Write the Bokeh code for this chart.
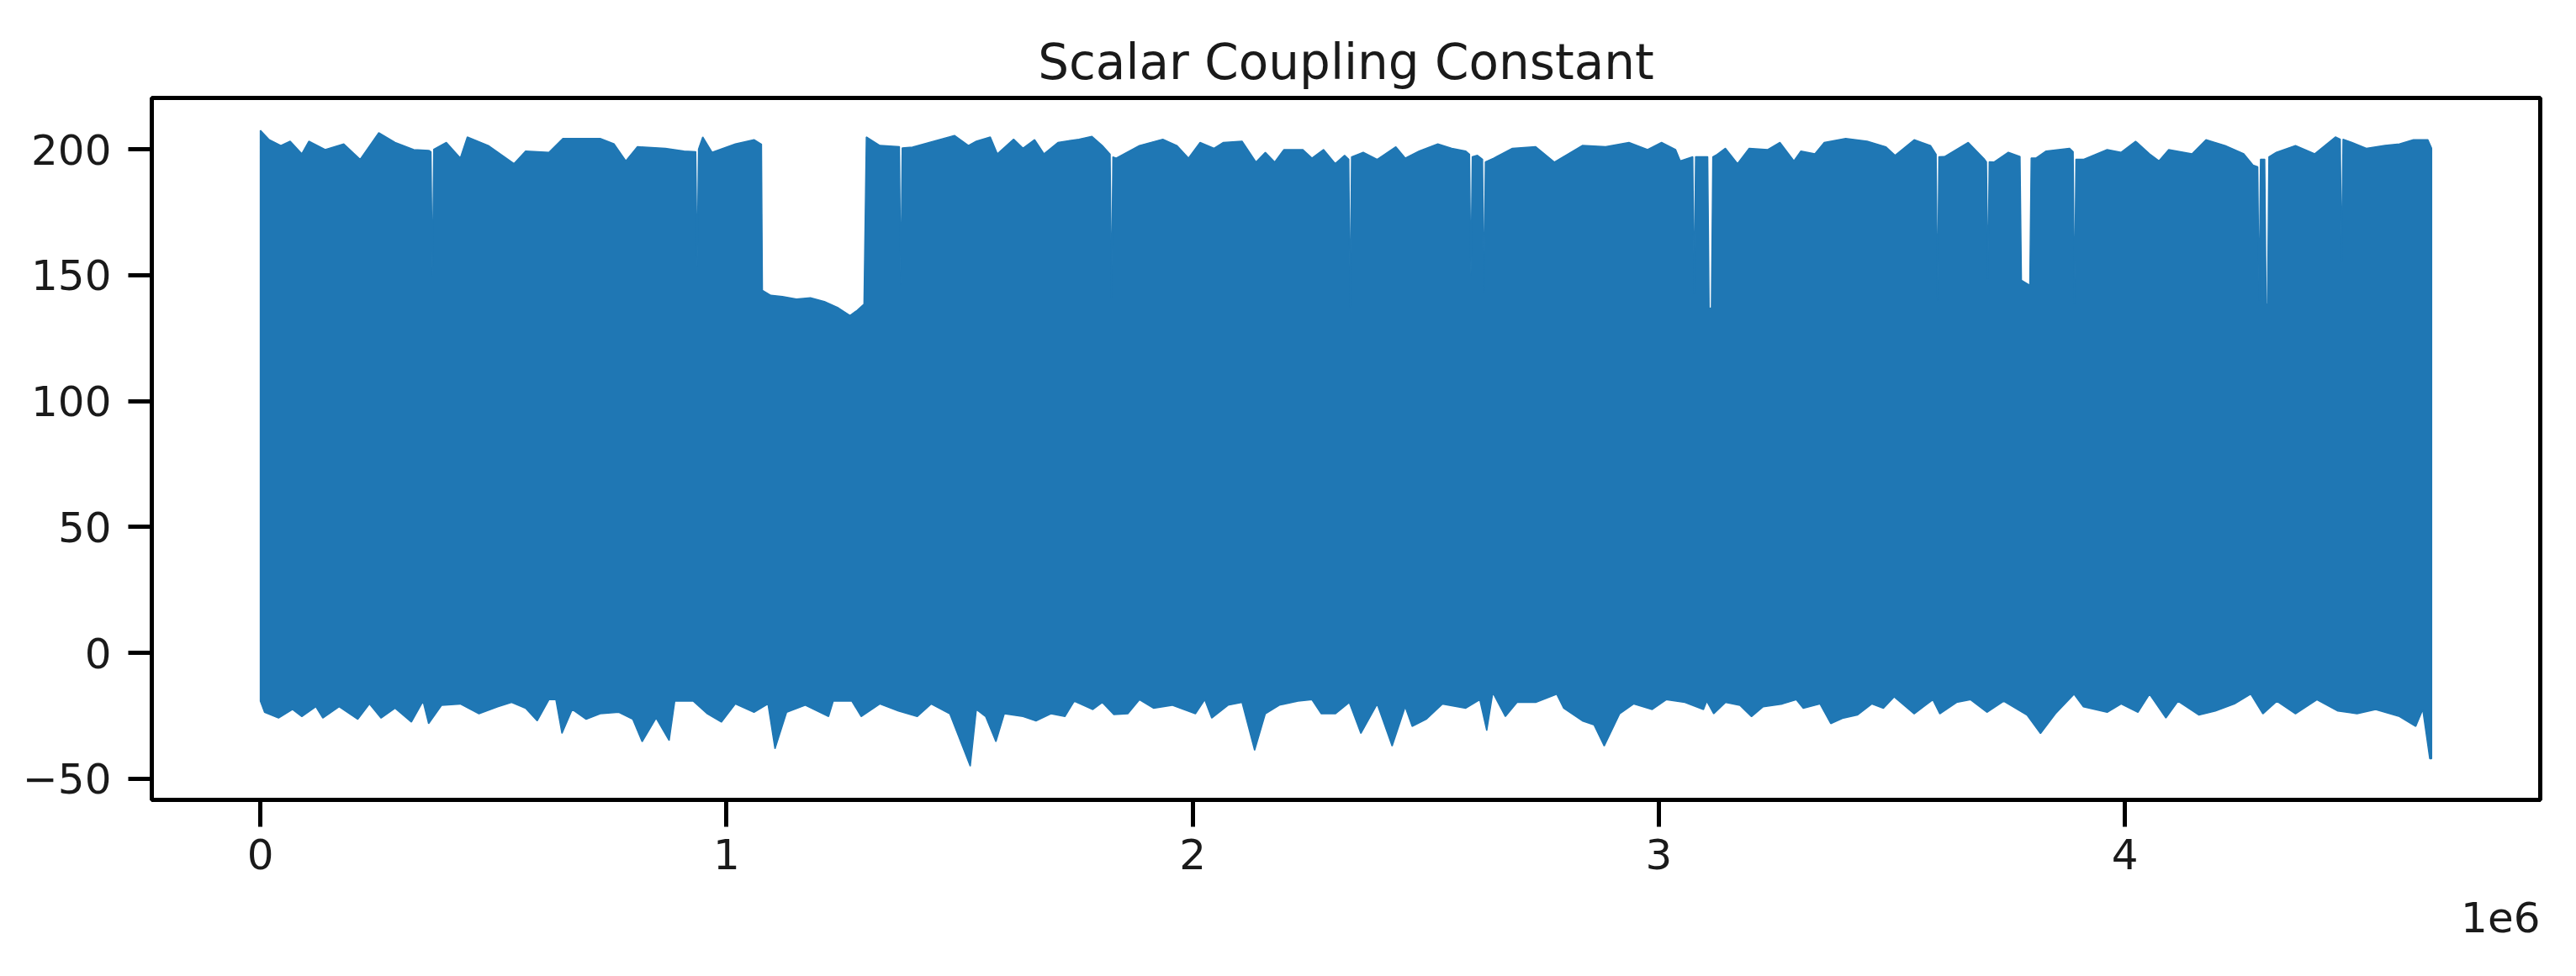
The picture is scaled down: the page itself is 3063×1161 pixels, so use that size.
from bokeh.plotting import figure
from bokeh.models import Range1d, FixedTicker, Title
from bokeh.embed import file_html
from bokeh.resources import INLINE

# ---- data (x in millions of rows, y = scalar coupling constant) ----
# upper envelope of the dense line (max of the series per pixel column)
upper_x = [0.000, 0.019, 0.044, 0.064, 0.089, 0.104, 0.139, 0.179, 0.214, 0.254, 0.289, 0.329,
           0.362, 0.366, 0.369, 0.372, 0.399, 0.429, 0.444, 0.489, 0.544, 0.569, 0.619, 0.649,
           0.689, 0.729, 0.759, 0.784, 0.809, 0.869, 0.909, 0.934, 0.937, 0.940, 0.949, 0.969,
           1.019, 1.059, 1.075, 1.077, 1.095, 1.120, 1.150, 1.180, 1.210, 1.240, 1.265, 1.280,
           1.295, 1.300, 1.329, 1.371, 1.374, 1.377, 1.399, 1.489, 1.519, 1.536, 1.566, 1.581,
           1.616, 1.636, 1.661, 1.681, 1.711, 1.756, 1.784, 1.806, 1.823, 1.826, 1.829, 1.836,
           1.886, 1.936, 1.966, 1.991, 2.016, 2.046, 2.066, 2.106, 2.136, 2.156, 2.176, 2.196,
           2.236, 2.256, 2.281, 2.306, 2.326, 2.335, 2.338, 2.341, 2.366, 2.396, 2.436, 2.456,
           2.486, 2.526, 2.556, 2.586, 2.594, 2.597, 2.600, 2.611, 2.622, 2.625, 2.628, 2.646,
           2.686, 2.736, 2.776, 2.836, 2.886, 2.936, 2.976, 3.006, 3.036, 3.046, 3.073, 3.076,
           3.079, 3.091, 3.105, 3.108, 3.113, 3.116, 3.123, 3.143, 3.169, 3.194, 3.234, 3.260,
           3.290, 3.305, 3.335, 3.355, 3.401, 3.447, 3.487, 3.507, 3.548, 3.583, 3.595, 3.598,
           3.601, 3.613, 3.664, 3.699, 3.703, 3.706, 3.709, 3.719, 3.750, 3.775, 3.778, 3.796,
           3.799, 3.809, 3.831, 3.881, 3.889, 3.892, 3.895, 3.911, 3.962, 3.992, 4.023, 4.053,
           4.073, 4.094, 4.144, 4.174, 4.215, 4.255, 4.275, 4.285, 4.288, 4.291, 4.300, 4.303,
           4.306, 4.309, 4.325, 4.366, 4.407, 4.452, 4.462, 4.465, 4.468, 4.487, 4.518, 4.558,
           4.589, 4.619, 4.650, 4.658]
upper_y = [207.5, 203.8, 201.5, 203.2, 198.2, 203.2, 199.9, 202.1, 196.0, 206.6, 202.7, 199.9,
           199.5, 199.0, 149.2, 200.0, 202.7, 196.5, 204.9, 201.5, 194.3, 199.3, 198.8, 204.3,
           204.3, 204.3, 202.1, 195.4, 201.0, 200.4, 199.3, 199.0, 153.1, 200.0, 204.9, 198.8,
           202.1, 203.8, 202.0, 144.0, 142.0, 141.5, 140.5, 141.0, 139.5, 137.0, 134.0, 136.0,
           138.5, 204.9, 201.5, 201.0, 146.2, 200.5, 200.9, 205.5, 201.5, 203.2, 204.9, 198.2,
           204.0, 200.4, 203.8, 198.2, 202.7, 204.0, 205.1, 201.5, 198.0, 141.1, 197.0, 196.5,
           201.5, 204.0, 201.5, 196.5, 202.7, 200.4, 202.7, 203.2, 194.9, 198.8, 194.9, 199.9,
           199.9, 196.5, 199.9, 194.3, 197.6, 196.0, 137.3, 197.0, 198.8, 196.0, 201.0, 196.5,
           199.3, 202.1, 200.4, 199.3, 198.0, 150.0, 197.0, 197.6, 196.0, 143.0, 195.0, 196.5,
           200.4, 201.0, 194.9, 201.5, 201.0, 202.7, 199.9, 202.7, 199.9, 195.4, 197.0, 142.5,
           197.0, 197.0, 197.0, 136.8, 137.0, 197.0, 197.7, 200.4, 194.3, 200.4, 199.9, 202.7,
           195.4, 199.3, 198.2, 202.7, 204.3, 203.2, 201.0, 197.6, 203.8, 201.5, 198.0, 140.0,
           197.0, 197.1, 202.7, 196.0, 195.0, 148.6, 195.0, 194.9, 198.8, 197.1, 148.0, 146.0,
           196.5, 196.5, 199.3, 200.4, 199.0, 138.5, 196.0, 196.0, 199.9, 198.8, 203.2, 198.2,
           195.4, 199.9, 198.2, 203.8, 201.5, 198.2, 193.7, 193.0, 139.8, 196.0, 196.0, 138.5,
           138.5, 197.0, 198.8, 201.5, 198.2, 204.9, 204.0, 155.3, 204.0, 202.7, 200.4, 201.5,
           202.1, 203.8, 203.8, 200.4]

# lower envelope of the dense line (min of the series per pixel column)
lower_x = [0.000, 0.009, 0.039, 0.069, 0.089, 0.119, 0.134, 0.169, 0.209, 0.234, 0.259, 0.289,
           0.324, 0.349, 0.361, 0.389, 0.429, 0.469, 0.509, 0.539, 0.569, 0.594, 0.619, 0.634,
           0.647, 0.669, 0.699, 0.729, 0.769, 0.799, 0.819, 0.849, 0.877, 0.889, 0.929, 0.959,
           0.989, 1.019, 1.059, 1.089, 1.104, 1.129, 1.169, 1.219, 1.229, 1.269, 1.289, 1.329,
           1.369, 1.409, 1.439, 1.479, 1.523, 1.536, 1.556, 1.578, 1.596, 1.636, 1.664, 1.696,
           1.726, 1.746, 1.786, 1.806, 1.831, 1.861, 1.886, 1.916, 1.956, 2.006, 2.026, 2.041,
           2.076, 2.106, 2.133, 2.156, 2.186, 2.226, 2.256, 2.276, 2.306, 2.336, 2.361, 2.396,
           2.428, 2.456, 2.471, 2.501, 2.536, 2.586, 2.616, 2.631, 2.644, 2.671, 2.696, 2.736,
           2.781, 2.796, 2.836, 2.861, 2.883, 2.916, 2.946, 2.986, 3.016, 3.056, 3.096, 3.103,
           3.118, 3.143, 3.174, 3.199, 3.224, 3.265, 3.295, 3.310, 3.346, 3.369, 3.396, 3.426,
           3.457, 3.482, 3.505, 3.548, 3.588, 3.603, 3.639, 3.669, 3.704, 3.740, 3.790, 3.819,
           3.851, 3.891, 3.911, 3.962, 3.992, 4.028, 4.053, 4.088, 4.114, 4.159, 4.194, 4.235,
           4.270, 4.296, 4.326, 4.366, 4.412, 4.457, 4.498, 4.538, 4.589, 4.624, 4.639, 4.654,
           4.658]
lower_y = [-19.2, -23.6, -25.9, -22.5, -25.3, -21.4, -25.9, -21.4, -26.4, -20.3, -25.9, -22.0,
           -27.5, -19.2, -28.1, -20.8, -20.3, -24.2, -21.4, -19.7, -22.0, -27.0, -18.6, -18.6,
           -32.0, -22.5, -26.4, -24.2, -23.6, -26.4, -35.3, -25.9, -34.8, -19.2, -19.2, -24.2,
           -27.5, -20.3, -23.6, -20.3, -38.1, -23.6, -20.8, -25.3, -19.2, -19.2, -25.3, -20.3,
           -23.1, -25.3, -20.3, -24.2, -45.0, -22.5, -25.3, -35.3, -24.2, -25.3, -27.0, -24.2,
           -25.3, -19.2, -22.5, -19.7, -24.5, -24.2, -18.6, -22.0, -20.8, -24.2, -18.6, -25.9,
           -20.8, -19.7, -38.7, -24.2, -20.8, -19.2, -18.6, -24.2, -24.2, -19.7, -32.0, -20.3,
           -37.0, -21.4, -29.2, -26.4, -20.3, -22.0, -18.6, -30.9, -15.8, -25.3, -19.7, -19.7,
           -16.4, -22.0, -27.0, -28.6, -37.0, -24.2, -20.3, -22.5, -18.6, -19.7, -22.5, -19.2,
           -24.2, -19.7, -20.8, -25.3, -21.4, -20.3, -18.6, -22.0, -20.3, -28.1, -25.9, -24.7,
           -20.3, -22.0, -17.5, -24.2, -18.6, -24.2, -19.7, -18.6, -23.6, -19.2, -24.7, -32.0,
           -24.2, -16.4, -21.4, -23.6, -20.3, -23.6, -16.4, -25.9, -19.2, -24.7, -23.1, -20.3,
           -16.4, -24.2, -19.2, -24.2, -18.6, -23.1, -24.2, -22.5, -25.3, -29.2, -22.5, -42.0,
           -42.0]

x_scale = 1e6                       # axis offset shown as "1e6"
x_ticks = [0, 1, 2, 3, 4]
y_ticks = [-50, 0, 50, 100, 150, 200]
title_text = "Scalar Coupling Constant"

# ---- figure ----
W, H = 3040, 1158
p = figure(width=W, height=H, output_backend="svg", toolbar_location=None,
           x_range=Range1d(-0.2329 * x_scale, 4.8911 * x_scale),
           y_range=Range1d(-58.4, 220.4),
           min_border_left=180, min_border_right=20, min_border_top=116, min_border_bottom=207)

xs = [v * x_scale for v in upper_x] + [v * x_scale for v in reversed(lower_x)]
ys = list(upper_y) + list(reversed(lower_y))
p.patch(xs, ys, fill_color="#1f77b4", line_color="#1f77b4", line_width=1.5)

p.xgrid.visible = False
p.ygrid.visible = False
p.background_fill_color = "white"
p.border_fill_color = "white"
p.outline_line_color = "black"
p.outline_line_width = 5
p.outline_line_alpha = 1.0

tick_font = "50px"
text_col = "#1a1a1a"

p.xaxis.ticker = FixedTicker(ticks=[t * x_scale for t in x_ticks])
p.xaxis.major_label_overrides = {int(t * x_scale): str(t) for t in x_ticks}
p.yaxis.ticker = FixedTicker(ticks=y_ticks)
p.yaxis.major_label_overrides = {t: (str(t).replace("-", "\u2212")) for t in y_ticks}

for ax in (p.xaxis[0], p.yaxis[0]):
    ax.axis_line_width = 5
    ax.axis_line_color = "black"
    ax.major_tick_line_width = 5
    ax.major_tick_line_color = "black"
    ax.major_tick_in = 0
    ax.minor_tick_line_color = None
    ax.major_label_text_font = "DejaVu Sans"
    ax.major_label_text_font_size = tick_font
    ax.major_label_text_color = text_col

p.xaxis.major_tick_out = 32
p.xaxis.major_label_standoff = 14
p.yaxis.major_tick_out = 28
p.yaxis.major_label_standoff = 20

p.title.text = title_text
p.title.align = "center"
p.title.text_font = "DejaVu Sans"
p.title.text_font_size = "58px"
p.title.text_font_style = "normal"
p.title.text_color = text_col
p.title.standoff = 18

offset_label = Title(text="1e6", align="right", text_font="DejaVu Sans",
                     text_font_size=tick_font, text_font_style="normal",
                     text_color=text_col, standoff=68)
p.add_layout(offset_label, "below")

open("out.html", "w").write(file_html(p, INLINE))
